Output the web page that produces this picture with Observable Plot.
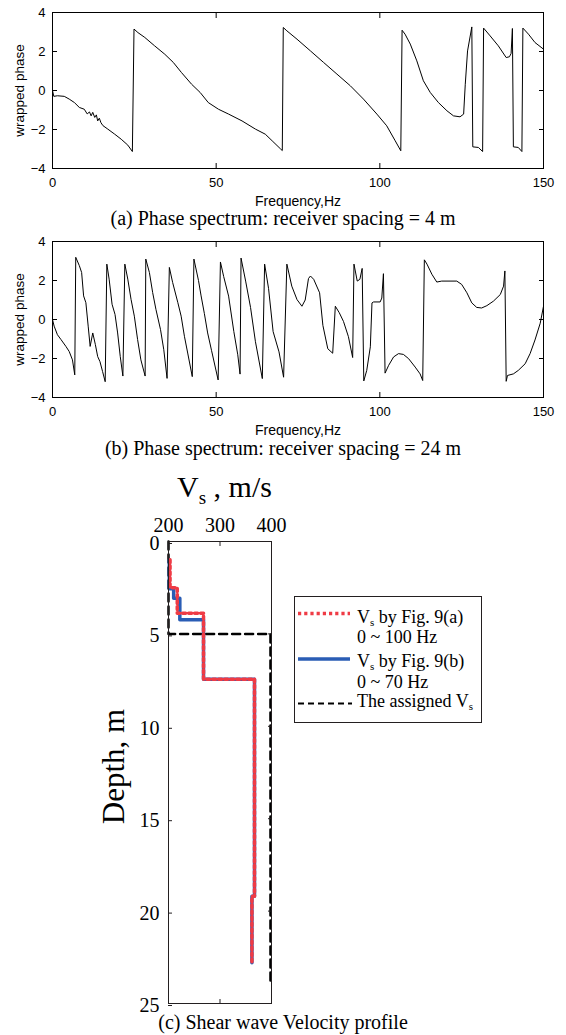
<!DOCTYPE html>
<html><head><meta charset="utf-8">
<script src="https://cdn.jsdelivr.net/npm/d3@7"></script>
<script src="https://cdn.jsdelivr.net/npm/@observablehq/plot@0.6"></script>
<style>
html,body{margin:0;padding:0;background:#fff}
#root{position:relative;width:566px;height:1035px;overflow:hidden;background:#fff}
.abs{position:absolute}
.cap{position:absolute;left:0;width:566px;text-align:center;white-space:nowrap;font-family:"Liberation Serif","Times New Roman",serif;font-size:20px;line-height:20px;color:#000}
.leg{position:absolute;white-space:nowrap;font-family:"Liberation Serif","Times New Roman",serif;font-size:18px;line-height:18px;color:#000}
.sub{position:relative;font-size:11px;top:3px}
</style></head>
<body><div id="root"></div>
<script>
// ---------- data ----------
const phaseXTicks = [0, 50, 100, 150];
const phaseYTicks = [-4, -2, 0, 2, 4];

// (a) receiver spacing = 4 m
const freqA = [0,0.4,1.5,3.6,5.1,6.7,8.2,9.7,10.6,11.3,11.8,12.3,12.9,13.4,13.8,14.3,14.8,15.4,16.9,19.0,21.0,23.0,24.4,
  24.9,26.1,28.2,31.2,34.3,36.9,39.4,42.5,45.1,47.6,50.7,53.8,57.9,62.0,65.0,67.1,69.7,70.2,
  70.5,71.6,74.7,78.8,82.8,86.9,91.0,95.0,99.1,102.1,104.7,106.4,
  106.8,107.7,109.3,111.3,113.3,115.4,117.9,120.5,122.5,124.5,125.6,126.1,126.8,128.1,
  128.4,130.1,131.4,131.7,133.7,136.2,138.6,139.6,140.1,140.5,140.8,142.3,143.4,143.7,145.4,147.4,150,150];
const phaseA = [0,-0.3,-0.27,-0.3,-0.44,-0.62,-0.87,-0.96,-1.2,-1.1,-1.3,-1.12,-1.38,-1.25,-1.56,-1.42,-1.65,-1.8,-1.98,-2.24,-2.5,-2.8,-3.13,
  3.15,2.97,2.72,2.29,1.86,1.44,0.92,0.32,-0.1,-0.62,-0.96,-1.21,-1.56,-1.98,-2.24,-2.58,-3.0,-3.08,
  3.23,3.06,2.63,2.03,1.44,0.84,0.24,-0.44,-1.21,-1.81,-2.58,-3.09,
  3.09,2.89,2.38,1.52,0.5,-0.1,-0.62,-1.04,-1.3,-1.35,-1.21,0.32,2.03,3.26,
  -2.89,-2.92,-3.13,3.2,2.8,2.29,1.69,1.73,1.9,3.18,-2.89,-2.92,-3.13,3.2,2.89,2.46,2.12,2.8];

// (b) receiver spacing = 24 m
const freqB = [0,0.5,1.5,2.6,4.1,5.1,6.1,6.8,7.1,8.2,8.9,9.5,10.2,10.9,11.5,12.3,13.1,13.8,14.5,15.3,16.1,
  16.6,17.3,18.2,19.1,19.9,20.7,21.5,22.1,23.0,24.0,25.0,26.0,27.0,28.3,28.5,29.6,30.6,31.6,33.0,34.0,35.0,
  35.7,36.7,38.3,39.3,40.3,41.3,42.7,43.2,44.6,45.4,46.4,47.4,48.6,50.6,51.3,52.3,53.8,55.4,56.6,57.3,
  57.6,59.0,60.5,62.0,64.1,64.8,66.0,67.4,69.2,70.6,71.6,73.1,74.7,76.2,77.2,78.2,78.8,79.8,81.6,82.6,84.1,85.6,
  86.4,87.6,88.9,90.4,91.7,92.1,93.1,93.9,94.6,95.1,96.0,97.1,97.6,98.1,100.1,100.6,101.1,101.6,102.7,104.2,
  105.7,107.2,108.8,110.8,112.3,113.1,113.6,114.4,115.9,117.4,118.9,123.5,125.0,126.6,128.1,129.6,131.1,132.7,
  134.7,136.8,137.8,138.2,138.6,139.0,140.8,142.3,144.4,145.9,147.4,149.0,150,150];
const phaseB = [0,-0.34,-0.78,-1.03,-1.38,-1.64,-2.07,-2.84,3.19,2.76,2.41,1.21,0.86,-0.34,-1.38,-0.69,-1.29,-1.9,-2.16,-2.67,-3.19,
  2.84,2.07,0.78,0.26,-0.69,-1.9,-2.9,2.84,2.07,1.03,0.17,-1.03,-2.07,-2.9,3.1,2.41,1.38,0.52,-0.52,-1.55,-3.02,
  2.67,1.9,0.86,0.17,-0.86,-1.72,-2.93,3.1,2.0,1.21,0.3,-0.69,-1.6,-3.1,2.95,2.2,1.2,-0.62,-1.81,-2.8,
  3.15,1.97,0.62,-1.14,-3.03,2.84,1.6,-0.62,-1.66,-2.96,2.84,1.71,1.02,0.68,1.0,2.1,2.23,2.06,1.37,-0.3,-1.5,-1.73,
  0.68,0.35,-0.1,-0.88,-1.95,2.84,1.97,2.06,2.62,-3.15,-2.61,-1.4,0.85,0.9,0.9,1.1,2.35,-2.75,-2.35,-1.92,
  -1.75,-1.79,-2.01,-2.44,-2.79,-3.13,3.06,2.84,2.32,1.92,1.97,1.97,1.8,1.37,0.85,0.62,0.59,0.71,
  0.94,1.28,1.71,2.49,-3.17,-2.87,-2.79,-2.61,-2.27,-1.75,-1.05,-0.19,0.68,2.35];

// (c) shear wave velocity profile
const vsTicks = [200, 300, 400];
const depthTicks = [0, 5, 10, 15, 20, 25];
const depthA = [0.99, 2.5, 3.88, 7.45, 19.2, 22.8];      // layer boundaries, Fig. 9(a)
const vsA = [203, 217, 268, 367, 362];
const depthB = [0.99, 2.56, 3.07, 4.24, 7.45, 19.2, 22.8]; // layer boundaries, Fig. 9(b)
const vsB = [201.5, 210, 222, 268, 367, 362];
const depthAssigned = [0, 5, 23.9];
const vsAssigned = [200, 398];

// ---------- helpers ----------
const sans = "'Liberation Sans', Arial, Helvetica, sans-serif";
const serif = "'Liberation Serif', 'Times New Roman', serif";
const root = document.getElementById("root");
function place(el, left, top) {
  const w = document.createElement("div");
  w.className = "abs"; w.style.left = left + "px"; w.style.top = top + "px";
  w.appendChild(el); root.appendChild(w); return w;
}
function html(cls, left, top, inner, extra) {
  const d = document.createElement("div");
  d.className = cls; d.style.top = top + "px";
  if (left !== null) d.style.left = left + "px";
  if (extra) Object.assign(d.style, extra);
  d.innerHTML = inner; root.appendChild(d); return d;
}
function layers(bounds, vel) {
  const pts = [];
  vel.forEach((v, i) => { pts.push({v, d: bounds[i]}); pts.push({v, d: bounds[i + 1]}); });
  return pts;
}

function phasePlot(freq, phase) {
  const data = freq.map((f, i) => ({f, p: phase[i]}));
  return Plot.plot({
    width: 566, height: 210,
    marginLeft: 52, marginRight: 23, marginTop: 12, marginBottom: 42,
    x: {domain: [0, 150]},
    y: {domain: [-4, 4]},
    style: {fontFamily: sans, fontSize: "13px", color: "#000", background: "transparent"},
    marks: [
      Plot.line(data, {x: "f", y: "p", stroke: "#000", strokeWidth: 1}),
      Plot.frame({stroke: "#000", strokeWidth: 1}),
      Plot.axisX(phaseXTicks, {anchor: "bottom", tickSize: -5, tickPadding: 14, label: null}),
      Plot.axisX(phaseXTicks, {anchor: "top", tickSize: -5, tickFormat: () => "", label: null}),
      Plot.axisY(phaseYTicks, {anchor: "left", tickSize: -5, tickPadding: 12, label: null}),
      Plot.axisY(phaseYTicks, {anchor: "right", tickSize: -5, tickFormat: () => "", label: null}),
      Plot.text(["Frequency,Hz"], {frameAnchor: "bottom", lineAnchor: "bottom", dy: 37, fontSize: 14}),
      Plot.text(["wrapped phase"], {frameAnchor: "left", textAnchor: "middle", rotate: -90, dx: -33, fontSize: 13.5})
    ]
  });
}

// ---------- panel (a) ----------
place(phasePlot(freqA, phaseA), 0, 0);
html("cap", null, 208, "(a) Phase spectrum: receiver spacing = 4 m");

// ---------- panel (b) ----------
place(phasePlot(freqB, phaseB), 0, 229);
html("cap", null, 437.5, "(b) Phase spectrum: receiver spacing = 24 m");

// ---------- panel (c) ----------
const red = "#ef3b45", blue = "#2a5db5";
const plotC = Plot.plot({
  width: 566, height: 560,
  marginLeft: 168, marginRight: 295, marginTop: 71, marginBottom: 27,
  x: {domain: [200, 400]},
  y: {domain: [0, 25], reverse: true},
  style: {fontFamily: serif, fontSize: "20px", color: "#000", background: "transparent"},
  marks: [
    Plot.line(layers(depthAssigned, vsAssigned), {x: "v", y: "d", stroke: "#000", strokeWidth: 2.5, strokeDasharray: "8,5"}),
    Plot.line(layers(depthB, vsB), {x: "v", y: "d", stroke: blue, strokeWidth: 3.5}),
    Plot.line(layers(depthA, vsA), {x: "v", y: "d", stroke: red, strokeWidth: 3.5, strokeDasharray: "3,3"}),
    Plot.frame({stroke: "#231f20", strokeWidth: 1}),
    Plot.axisX(vsTicks, {anchor: "top", tickSize: -4, tickPadding: 14, label: null, stroke: "#231f20"}),
    Plot.axisX(vsTicks, {anchor: "bottom", tickSize: -4, tickFormat: () => "", label: null, stroke: "#231f20"}),
    Plot.axisY(depthTicks, {anchor: "left", tickSize: -4, tickPadding: 13, dy: 2, label: null, stroke: "#231f20"}),
    Plot.axisY(depthTicks, {anchor: "right", tickSize: -4, tickFormat: () => "", label: null, stroke: "#231f20"}),
    Plot.text(["Depth, m"], {frameAnchor: "left", textAnchor: "middle", rotate: -90, lineAnchor: "bottom", dx: -44.7, dy: -6, fontSize: 31})
  ]
});
place(plotC, 0, 470);

// title
html("leg", 177, 472, 'V<span style="position:relative;font-size:19px;top:7px">s</span> , m/s',
  {fontSize: "30px", lineHeight: "30px"});

// legend box
const box = document.createElement("div");
Object.assign(box.style, {position: "absolute", left: "294px", top: "596px", width: "188px", height: "127px",
  border: "1px solid #231f20", boxSizing: "border-box", background: "#fff"});
root.appendChild(box);
const ns = "http://www.w3.org/2000/svg";
const sw = document.createElementNS(ns, "svg");
sw.setAttribute("width", 566); sw.setAttribute("height", 1035);
sw.style.position = "absolute"; sw.style.left = "0px"; sw.style.top = "0px";
const swatches = [
  {y: 613.5, stroke: red, w: 3.5, dash: "3.2,3", x2: 350},
  {y: 659, stroke: blue, w: 3.5, dash: null, x2: 350},
  {y: 703.5, stroke: "#000", w: 2, dash: "6,4", x2: 352}
];
swatches.forEach(s => {
  const l = document.createElementNS(ns, "line");
  l.setAttribute("x1", 298); l.setAttribute("x2", s.x2);
  l.setAttribute("y1", s.y); l.setAttribute("y2", s.y);
  l.setAttribute("stroke", s.stroke); l.setAttribute("stroke-width", s.w);
  if (s.dash) l.setAttribute("stroke-dasharray", s.dash);
  sw.appendChild(l);
});
root.appendChild(sw);
const legendLines = [
  [622.7, 'V<span class="sub">s</span> by Fig. 9(a)'],
  [642.7, '0 ~ 100 Hz'],
  [667.3, 'V<span class="sub">s</span> by Fig. 9(b)'],
  [688, '0 ~ 70 Hz'],
  [706.7, 'The assigned V<span class="sub">s</span>']
];
legendLines.forEach(([b, t]) => html("leg", 357, b - 15, t));

html("cap", null, 1011.5, "(c) Shear wave Velocity profile");
</script>
</body></html>
